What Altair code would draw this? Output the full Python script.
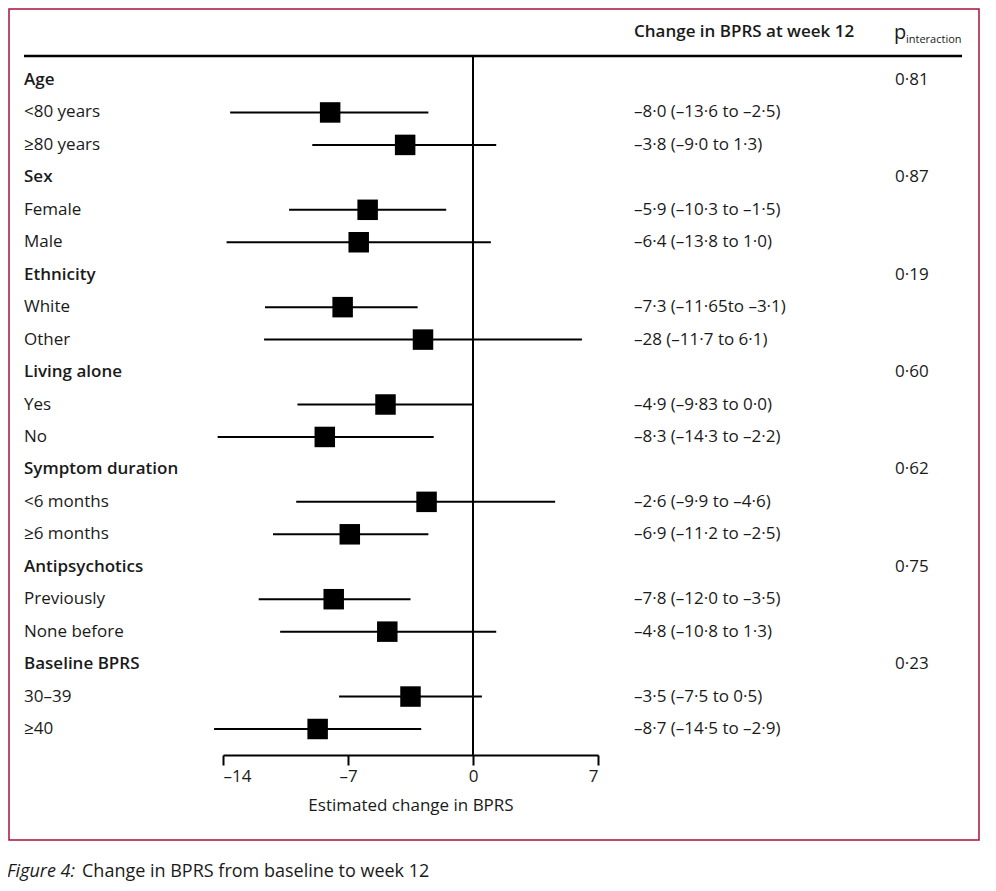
import altair as alt
import pandas as pd

labels = ["Age", "<80 years", "≥80 years", "Sex", "Female", "Male", "Ethnicity", "White", "Other",
          "Living alone", "Yes", "No", "Symptom duration", "<6 months", "≥6 months",
          "Antipsychotics", "Previously", "None before", "Baseline BPRS", "30–39", "≥40"]
is_group = [True, False, False, True, False, False, True, False, False, True, False, False,
            True, False, False, True, False, False, True, False, False]
estimate = [None, -8.0, -3.8, None, -5.9, -6.4, None, -7.3, -2.8, None, -4.9, -8.3,
            None, -2.6, -6.9, None, -7.8, -4.8, None, -3.5, -8.7]
ci_low = [None, -13.6, -9.0, None, -10.3, -13.8, None, -11.65, -11.7, None, -9.83, -14.3,
          None, -9.9, -11.2, None, -12.0, -10.8, None, -7.5, -14.5]
ci_high = [None, -2.5, 1.3, None, -1.5, 1.0, None, -3.1, 6.1, None, 0.0, -2.2,
           None, 4.6, -2.5, None, -3.5, 1.3, None, 0.5, -2.9]
ci_text = ["", "–8·0 (–13·6 to –2·5)", "–3·8 (–9·0 to 1·3)", "", "–5·9 (–10·3 to –1·5)",
           "–6·4 (–13·8 to 1·0)", "", "–7·3 (–11·65to –3·1)", "–28 (–11·7 to 6·1)", "",
           "–4·9 (–9·83 to 0·0)", "–8·3 (–14·3 to –2·2)", "", "–2·6 (–9·9 to –4·6)",
           "–6·9 (–11·2 to –2·5)", "", "–7·8 (–12·0 to –3·5)", "–4·8 (–10·8 to 1·3)", "",
           "–3·5 (–7·5 to 0·5)", "–8·7 (–14·5 to –2·9)"]
p_text = ["0·81", "", "", "0·87", "", "", "0·19", "", "", "0·60", "", "", "0·62", "", "",
          "0·75", "", "", "0·23", "", ""]
x_ticks = [-14, -7, 0, 7]

df = pd.DataFrame({
    "idx": list(range(len(labels))), "label": labels, "group": is_group, "est": estimate,
    "lo": ci_low, "hi": ci_high, "ci": ci_text, "p": p_text,
})

FONT = "Open Sans"
TXT = "#1a1a1a"
RED = "#a8103a"

yenc = alt.Y("idx:Q", scale=alt.Scale(domain=[0, len(labels) - 1], range=[24, 673], nice=False,
                                      zero=False), axis=None)
xscale = alt.Scale(domain=[-14, 7], nice=False, zero=False)

base = alt.Chart(df)

border = alt.Chart(df.head(1)).mark_rect(fillOpacity=0, stroke=RED, strokeWidth=1.5).encode(
    x=alt.value(-214), x2=alt.value(756), y=alt.value(-47), y2=alt.value(784))
header_line = alt.Chart(df.head(1)).mark_rule(color="black", strokeWidth=2.5).encode(
    x=alt.value(-199), x2=alt.value(739), y=alt.value(0))
zero_line = alt.Chart(df.head(1)).mark_rule(color="black", strokeWidth=2).encode(
    x=alt.datum(0, scale=xscale))

bars = base.transform_filter("datum.est != null").mark_rule(color="black", strokeWidth=2).encode(
    x=alt.X("lo:Q", scale=xscale,
            axis=alt.Axis(values=x_ticks, title="Estimated change in BPRS",
                          labelExpr="datum.value < 0 ? '–' + abs(datum.value) : datum.label",
                          grid=False, domainColor="black", domainWidth=2, tickColor="black",
                          tickWidth=2, tickSize=10, labelFont=FONT, labelFontSize=17,
                          labelColor=TXT, labelPadding=3, titleFont=FONT, titleFontSize=17,
                          titleFontWeight="normal", titleColor=TXT, titlePadding=13)),
    x2="hi:Q", y=yenc)
squares = base.transform_filter("datum.est != null").mark_square(
    size=420, color="black", opacity=1).encode(x=alt.X("est:Q", scale=xscale), y=yenc)

lab_group = base.transform_filter("datum.group").mark_text(
    align="left", baseline="middle", font=FONT, fontSize=17, fontWeight=600, color=TXT).encode(
    x=alt.value(-199), y=yenc, text="label:N")
lab_sub = base.transform_filter("!datum.group").mark_text(
    align="left", baseline="middle", font=FONT, fontSize=17, color=TXT).encode(
    x=alt.value(-199), y=yenc, text="label:N")
ci_lab = base.mark_text(align="left", baseline="middle", font=FONT, fontSize=17, color=TXT).encode(
    x=alt.value(411), y=yenc, text="ci:N")
p_lab = base.mark_text(align="left", baseline="middle", font=FONT, fontSize=17, color=TXT).encode(
    x=alt.value(672), y=yenc, text="p:N")

hdr = pd.DataFrame({"t": ["Change in BPRS at week 12"]})
h1 = alt.Chart(hdr).mark_text(align="left", baseline="middle", font=FONT, fontSize=17,
                              fontWeight=600, color=TXT).encode(
    x=alt.value(411), y=alt.value(-24), text="t:N")
h2 = alt.Chart(pd.DataFrame({"t": ["p"]})).mark_text(
    align="left", baseline="alphabetic", font=FONT, fontSize=20, color=TXT).encode(
    x=alt.value(671), y=alt.value(-17), text="t:N")
h3 = alt.Chart(pd.DataFrame({"t": ["interaction"]})).mark_text(
    align="left", baseline="alphabetic", font=FONT, fontSize=11, color=TXT).encode(
    x=alt.value(683), y=alt.value(-13), text="t:N")

cap1 = alt.Chart(pd.DataFrame({"t": ["Figure 4:"]})).mark_text(
    align="left", baseline="alphabetic", font=FONT, fontSize=18, fontStyle="italic", color=TXT).encode(
    x=alt.value(-216), y=alt.value(821), text="t:N")
cap2 = alt.Chart(pd.DataFrame({"t": ["Change in BPRS from baseline to week 12"]})).mark_text(
    align="left", baseline="alphabetic", font=FONT, fontSize=18, color=TXT).encode(
    x=alt.value(-141), y=alt.value(821), text="t:N")

chart = alt.layer(border, header_line, zero_line, bars, squares, lab_group, lab_sub, ci_lab,
                  p_lab, h1, h2, h3, cap1, cap2).properties(
    width=375, height=699,
    autosize=alt.AutoSizeParams(type="none"),
    padding={"left": 215, "top": 48, "right": 382, "bottom": 127},
    background="white",
).configure_view(stroke=None)

chart.save("out.html", embed_options={"renderer": "svg", "actions": False})
